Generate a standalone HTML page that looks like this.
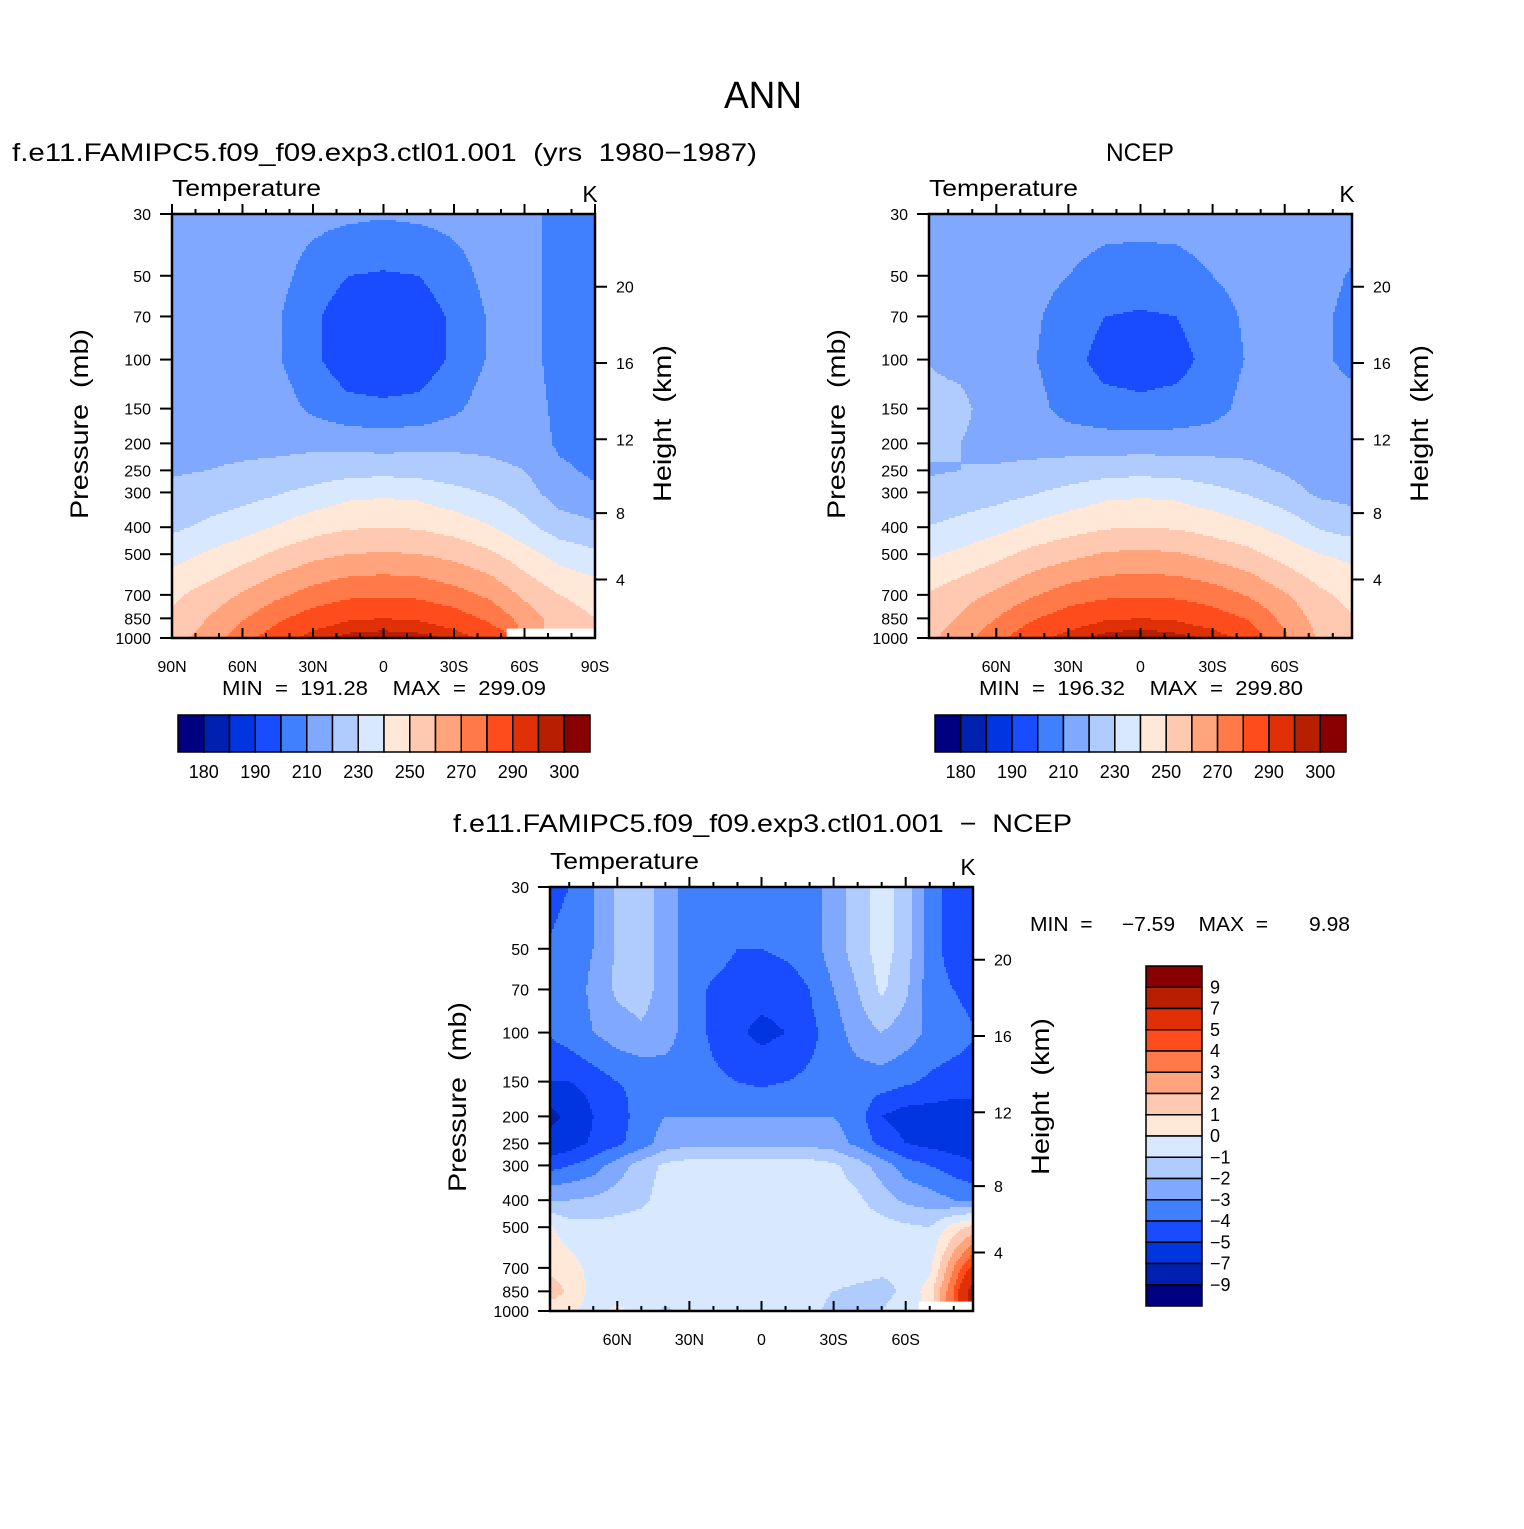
<!DOCTYPE html>
<html><head><meta charset="utf-8">
<style>
html,body{margin:0;padding:0;background:#fff;}
svg text{font-family:"Liberation Sans",sans-serif;fill:#000;white-space:pre;}
</style></head>
<body>
<svg id="chart" width="1524" height="1524" viewBox="0 0 1524 1524" xmlns="http://www.w3.org/2000/svg" xml:space="preserve">
<rect width="1524" height="1524" fill="#fff"/>
<text x="724" y="108" font-size="38" textLength="78" lengthAdjust="spacingAndGlyphs">ANN</text>
<text x="12" y="161" font-size="25" textLength="745" lengthAdjust="spacingAndGlyphs">f.e11.FAMIPC5.f09_f09.exp3.ctl01.001  (yrs  1980−1987)</text>
<text x="1106" y="161" font-size="25" textLength="68" lengthAdjust="spacingAndGlyphs">NCEP</text>
<text x="453" y="832" font-size="25" textLength="619" lengthAdjust="spacingAndGlyphs">f.e11.FAMIPC5.f09_f09.exp3.ctl01.001  −  NCEP</text>
<g id="g1"></g>
<g id="g2"></g>
<g id="g3"></g>
<text x="222" y="695" font-size="20" textLength="324" lengthAdjust="spacingAndGlyphs">MIN  =  191.28    MAX  =  299.09</text>
<text x="979" y="695" font-size="20" textLength="324" lengthAdjust="spacingAndGlyphs">MIN  =  196.32    MAX  =  299.80</text>
<text x="1030" y="931" font-size="20" textLength="320" lengthAdjust="spacingAndGlyphs">MIN  =     −7.59    MAX  =       9.98</text>
</svg>
<script>
const NS="http://www.w3.org/2000/svg";
const colors=["#000080","#0020b0","#0035e0","#1a4cff","#4080ff","#80a8ff","#b0ccff","#d8e8ff","#ffe8d8","#ffc8b0","#ffa47c","#ff7a48","#ff4c1c","#e03008","#b81e00","#880000"];
const tempLevels=[180,185,190,200,210,220,230,240,250,260,270,280,290,295,300];
const tempLabels=["180","190","210","230","250","270","290","300"];
const diffLevels=[-9,-7,-5,-4,-3,-2,-1,0,1,2,3,4,5,7,9];
const diffLabels=["9","7","5","4","3","2","1","0","−1","−2","−3","−4","−5","−7","−9"];
const pressures=[30,50,70,100,150,200,250,300,400,500,700,850,1000];
const pressureTicks=["30","50","70","100","150","200","250","300","400","500","700","850","1000"];
const heightTicks=[20,16,12,8,4];
const latsT=[90,75,60,45,30,15,0,-15,-30,-45,-60,-75,-90];
const latsD=[90,80,70,60,50,40,30,20,10,0,-10,-20,-30,-40,-50,-60,-70,-80,-90];
const N=NaN;
const modelT=[
[214,214,214,214,213,212,211,212,213,214,213,207,205],
[214,214,214,213,206,200,199,200,206,213,213,207,205],
[215,215,215,211,202,194,193,194,202,211,213,207,205],
[215,215,215,211,202,194,193,194,202,211,213,207,205],
[216,216,216,215,208,203,202,203,208,215,214,208,206],
[218,218,218,218,218,217,216,217,218,218,217,208,206],
[219,220,221,222,224,226,227,226,224,222,220,212,208],
[222,224,226,229,233,237,238,237,233,229,224,215,212],
[228,232,236,241,246,249,250,249,246,241,233,225,222],
[236,241,246,252,257,260,261,260,257,252,244,236,232],
[248,254,261,268,274,278,279,278,274,268,258,250,246],
[252,260,269,278,285,289,290,289,285,278,266,255,250],
[256,264,276,286,293,297,298,297,294,287,N,N,N]];
const ncepT=[
[215,215,215,215,215,214,214,214,215,215,215,214,213],
[215,215,215,214,210,206,205,206,210,214,214,212,209],
[216,215,214,212,205,200,199,200,205,212,213,211,208],
[220,218,214,211,203,197,196,197,203,211,213,211,208],
[222,222,216,214,206,203,202,203,206,214,214,213,212],
[222,220,217,217,216,215,215,215,216,217,216,215,214],
[219,220,221,222,224,226,227,226,224,222,219,215,214],
[222,224,226,229,233,237,238,237,233,229,224,218,216],
[230,233,237,242,246,249,250,249,246,242,236,229,225],
[238,242,247,253,257,261,262,261,257,253,246,240,237],
[250,256,262,269,275,278,279,278,275,269,261,252,246],
[254,261,270,279,285,289,290,289,285,279,267,256,250],
[257,265,277,287,293,297,299,297,294,287,272,258,252]];
const diffT=[
[-4.5,-4,-3,-1.8,-1.5,-2.5,-3.5,-3.5,-3.5,-3.5,-3.5,-3.5,-2.5,-1.5,-0.5,-1.5,-3.5,-4.5,-5],
[-4,-3.5,-3,-1.8,-1.5,-2.5,-3.5,-3.5,-4,-4,-3.8,-3.5,-2.5,-1.5,-0.5,-1.5,-3.5,-4.5,-5],
[-3.5,-3.5,-2.8,-1.8,-1.5,-2.5,-3.5,-4.2,-4.5,-4.6,-4.5,-4,-3,-2,-0.8,-1.8,-3.5,-4,-4.5],
[-4,-3.5,-3,-2.5,-2.2,-2.5,-3.5,-4.2,-4.8,-5.3,-5,-4.3,-3.5,-2.5,-2,-2.5,-3.2,-3.5,-4],
[-5,-5,-4.5,-4,-3.8,-3.6,-3.6,-3.8,-4,-4.2,-4,-3.8,-3.6,-3.5,-3.5,-3.8,-4.2,-4.5,-4.5],
[-8,-6.5,-5,-4.5,-3.5,-3,-3,-3,-3,-3,-3,-3,-3,-3.5,-5,-5.5,-5.5,-5.5,-5.5],
[-6,-5.5,-4.8,-4.2,-3.5,-2.5,-2.3,-2.3,-2.3,-2.3,-2.3,-2.3,-2.5,-3.3,-4.3,-5,-5.3,-5.5,-5.5],
[-4.5,-4,-3.5,-2.5,-1.5,-0.8,-0.5,-0.5,-0.5,-0.5,-0.5,-0.5,-0.8,-1.5,-2.5,-3.5,-4,-4.5,-5],
[-2,-2,-1.8,-1.5,-1.2,-0.6,-0.4,-0.4,-0.4,-0.4,-0.4,-0.4,-0.5,-0.8,-1.5,-2.2,-2.5,-3,-3.2],
[0.3,-0.5,-0.7,-0.6,-0.5,-0.4,-0.4,-0.4,-0.4,-0.4,-0.4,-0.4,-0.4,-0.5,-0.6,-0.8,-1,0.5,1.5],
[0.8,0.4,-0.3,-0.5,-0.5,-0.5,-0.5,-0.4,-0.4,-0.4,-0.4,-0.5,-0.5,-0.6,-0.8,-0.8,-0.3,3,6],
[1.8,0.8,-0.3,-0.5,-0.8,-0.5,-0.5,-0.5,-0.3,-0.4,-0.5,-0.8,-1,-1.2,-1.3,-0.8,0.5,4,9],
[0.3,0.2,-0.5,0.3,-0.5,-1.2,-0.6,-0.8,-0.5,-0.5,-0.6,-0.8,-1.2,-1.3,-1,-0.5,N,N,N]];

function mk(tag,attrs,parent){const e=document.createElementNS(NS,tag);for(const k in attrs)e.setAttribute(k,attrs[k]);parent.appendChild(e);return e;}
function colorFor(v,levels){let i=0;while(i<levels.length&&v>=levels[i])i++;return colors[i];}
function heightToPressure(z){ // standard atmosphere
  if(z<=11){return 1013.25*Math.pow(1-0.0065*z*1000/288.15,5.2559);}
  return 226.32*Math.exp(-(z-11)*1000/6341.6);
}
function locate(arr,v,desc){
  const n=arr.length;
  for(let i=0;i<n-1;i++){const a=arr[i],b=arr[i+1];
    if((desc? (v<=a&&v>=b):(v>=a&&v<=b))){return [i,(v-a)/(b-a)];}}
  return desc? (v>arr[0]?[0,0]:[n-2,1]) : (v<arr[0]?[0,0]:[n-2,1]);
}
function drawPanel(g,o){
  const {x0,y0,w,h,latMax,lats,field,levels,xTicks}=o;
  const lp=pressures.map(p=>Math.log(p));
  const yOf=p=>y0+Math.log(p/30)/Math.log(1000/30)*h;
  const xOf=lat=>x0+(latMax-lat)/(2*latMax)*w;
  const cells=mk('g',{},g);
  
  
  const step=2;
  for(let y=y0;y<y0+h;y+=step){
    const yc=Math.min(y+step/2,y0+h);
    const p=30*Math.exp((yc-y0)/h*Math.log(1000/30));
    const [pi,pf]=locate(lp,Math.log(p),false);
    let runStart=x0,runCol=null;
    const flush=(xe)=>{if(runCol){mk('rect',{x:runStart,y:y,width:xe-runStart+0.6,height:Math.min(step,y0+h-y)+0.6,fill:runCol},cells);}};
    for(let x=x0;x<x0+w;x+=step){
      const lat=latMax-((x+step/2-x0)/w)*2*latMax;
      const [li,lf]=locate(lats,lat,true);
      const c=[[field[pi][li],(1-pf)*(1-lf)],[field[pi][li+1],(1-pf)*lf],[field[pi+1][li],pf*(1-lf)],[field[pi+1][li+1],pf*lf]];
      let best=c[0];c.forEach(q=>{if(q[1]>best[1])best=q;});
      let col=null;
      if(!isNaN(best[0])){let s=0,ws=0;c.forEach(q=>{if(!isNaN(q[0])){s+=q[0]*q[1];ws+=q[1];}});col=colorFor(s/ws,levels);}
      if(col!==runCol){flush(x);runStart=x;runCol=col;}
    }
    flush(x0+w);
  }
  const fr=mk('rect',{x:x0,y:y0,width:w,height:h,fill:'none',stroke:'#000','stroke-width':2.5},g);
  
  
  pressures.forEach((p,i)=>{const y=yOf(p);
    mk('line',{x1:x0-12,x2:x0,y1:y,y2:y,stroke:'#000','stroke-width':2},g);
    const t=mk('text',{x:x0-21,y:y+6,'font-size':16,'text-anchor':'end'},g);t.textContent=pressureTicks[i];
    
    
  });
  heightTicks.forEach(z=>{const y=yOf(heightToPressure(z));
    mk('line',{x1:x0+w,x2:x0+w+12,y1:y,y2:y,stroke:'#000','stroke-width':2},g);
    const t=mk('text',{x:x0+w+21,y:y+6,'font-size':16},g);t.textContent=String(z);
    
    
  });
  for(let lat=-90;lat<=90;lat+=10){if(Math.abs(lat)>latMax)continue;const x=xOf(lat);const major=lat%30===0;
    mk('line',{x1:x,x2:x,y1:y0,y2:y0-(major?10:5),stroke:'#000','stroke-width':2},g);
    mk('line',{x1:x,x2:x,y1:y0+h,y2:y0+h-(major?10:5),stroke:'#000','stroke-width':2},g);
  }
  xTicks.forEach(lat=>{const x=xOf(lat);
    const t=mk('text',{x:x,y:y0+h+34,'font-size':16,'text-anchor':'middle'},g);
    t.textContent=lat===0?'0':(Math.abs(lat)+(lat>0?'N':'S'));
    
    
  });
  const tt=mk('text',{x:x0,y:y0-18,'font-size':23,textLength:149,lengthAdjust:'spacingAndGlyphs'},g);tt.textContent='Temperature';
  
  
  const tk=mk('text',{x:x0+w-5,y:y0-12,'font-size':23,'text-anchor':'middle'},g);tk.textContent='K';
  
  
  const ya=mk('text',{x:-95,y:0,'font-size':25,textLength:190,lengthAdjust:'spacingAndGlyphs',transform:`translate(${x0-84},${y0+h/2-2}) rotate(-90)`},g);ya.textContent='Pressure  (mb)';
  
  
  const ha=mk('text',{x:-78,y:0,'font-size':25,textLength:157,lengthAdjust:'spacingAndGlyphs',transform:`translate(${x0+w+76},${y0+h/2-2}) rotate(-90)`},g);ha.textContent='Height  (km)';
  
  
}
function hBar(g,x0,y0,w,h,labels){
  const n=colors.length,bw=w/n;
  colors.forEach((c,i)=>{const r=mk('rect',{x:x0+i*bw,y:y0,width:bw,height:h,fill:c,stroke:'#000','stroke-width':1.5},g);
    
    });
  labels.forEach((l,k)=>{
    const t=mk('text',{x:x0+(1+2*k)*bw,y:y0+h+26,'font-size':18,'text-anchor':'middle'},g);t.textContent=l;
    
    });
}
drawPanel(document.getElementById('g1'),{x0:172,y0:214,w:423,h:424,latMax:90,lats:latsT,field:modelT,levels:tempLevels,xTicks:[90,60,30,0,-30,-60,-90]});
drawPanel(document.getElementById('g2'),{x0:929,y0:214,w:423,h:424,latMax:88,lats:latsT,field:ncepT,levels:tempLevels,xTicks:[60,30,0,-30,-60]});
drawPanel(document.getElementById('g3'),{x0:550,y0:887,w:423,h:424,latMax:88,lats:latsD,field:diffT,levels:diffLevels,xTicks:[60,30,0,-30,-60]});
hBar(document.getElementById('g1'),178,715,412,37,tempLabels);
hBar(document.getElementById('g2'),935,715,411,37,tempLabels);
(function(){const g=document.getElementById('g3');const x0=1146,y0=966,w=56,h=340,n=colors.length,bh=h/n;
  colors.slice().reverse().forEach((c,i)=>{const r=mk('rect',{x:x0,y:y0+i*bh,width:w,height:bh,fill:c,stroke:'#000','stroke-width':1.5},g);
    
    });
  diffLabels.forEach((l,i)=>{const t=mk('text',{x:x0+w+8,y:y0+(i+1)*bh+6,'font-size':18},g);t.textContent=l;
    
    });
})();
</script>
</body></html>
